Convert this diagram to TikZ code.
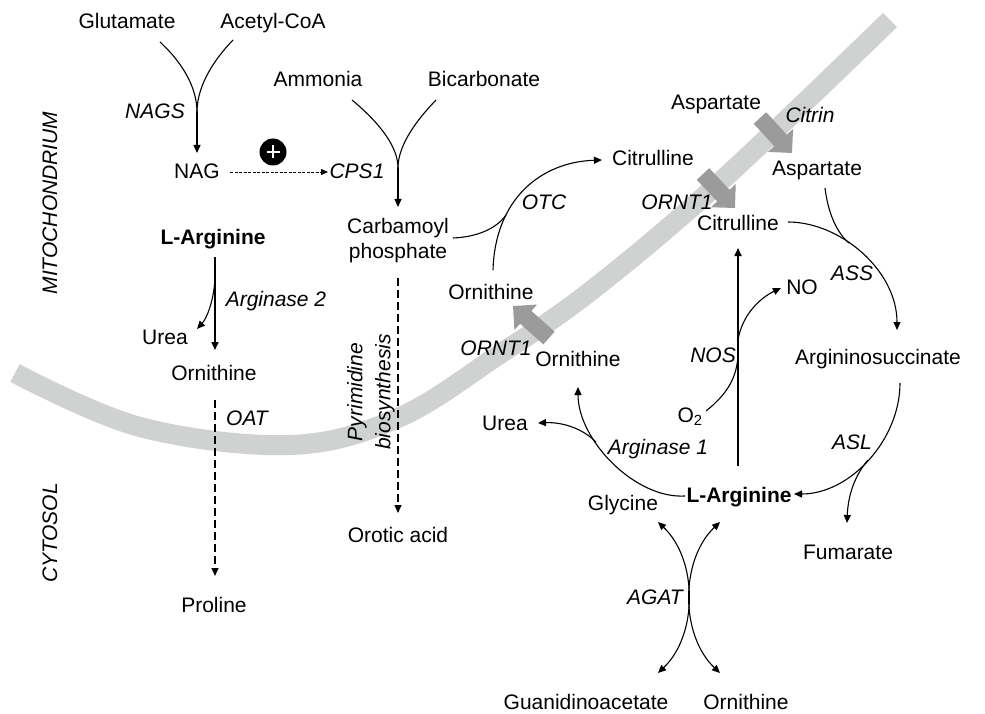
\documentclass[tikz,border=0pt]{standalone}
\usepackage{fontspec}
\setmainfont{Liberation Sans}
\usetikzlibrary{arrows.meta}
\definecolor{membr}{RGB}{208,210,210}
\definecolor{blockc}{RGB}{155,155,155}
\begin{document}
\begin{tikzpicture}[x=1pt,y=-1pt,
  every node/.style={font=\fontsize{21pt}{25pt}\selectfont, inner sep=0pt},
  lbl/.style={anchor=base},
  enz/.style={anchor=base,font=\fontsize{21pt}{25pt}\selectfont\itshape},
  bld/.style={anchor=base,font=\fontsize{21pt}{25pt}\selectfont\bfseries},
  conn/.style={line width=1.1pt},
  thick conn/.style={line width=1.6pt},
  arr/.style={conn,-{Triangle[length=8pt,width=7pt]}},
  dblarr/.style={conn,{Triangle[length=8pt,width=7pt]}-{Triangle[length=8pt,width=7pt]}},
  dsh/.style={arr,dash pattern=on 8pt off 4pt},
  fine dsh/.style={line width=0.8pt,-{Triangle[length=7pt,width=6pt]},dash pattern=on 3pt off 1.5pt},
  blockarrow/.style={line width=17pt,blockc,-{Triangle[length=17pt,width=33pt]}},
]
\useasboundingbox (0,0) rectangle (985,714);

% membrane
\draw[membr, line width=20pt] plot[smooth, tension=0.6] coordinates {(15,373) (140,427) (290,445) (398,418) (500,354) (592,290) (720,182) (890,20)};

% transporter block arrows
\coordinate (citrin-t) at (760,118);
\coordinate (citrin-h) at (792,153);
\coordinate (ornta-t) at (703,174);
\coordinate (ornta-h) at (735,208);
\coordinate (orntb-t) at (549,338);
\coordinate (orntb-h) at (513,306);
\draw[blockarrow] (citrin-t) -- (citrin-h);
\draw[blockarrow] (ornta-t) -- (ornta-h);
\draw[blockarrow] (orntb-t) -- (orntb-h);

% compartment labels
\node[rotate=90,font=\fontsize{21pt}{25pt}\selectfont\itshape] (mito) at (50,203) {MITOCHONDRIUM};
\node[rotate=90,font=\fontsize{21pt}{25pt}\selectfont\itshape] (cyto) at (50,533) {CYTOSOL};

% left part
\node[lbl] (glu) at (127,29) {Glutamate};
\node[lbl] (acc) at (273,29) {Acetyl-CoA};
\node[enz] (nags) at (155,119) {NAGS};
\node[lbl] (nag) at (197,179) {NAG};
\node[circle,fill=black,minimum size=27pt] (plus) at (273,152) {};
\draw[white,line width=2.6pt] ([xshift=-6.5pt]plus.center) -- ([xshift=6.5pt]plus.center);
\draw[white,line width=2.6pt] ([yshift=-6.5pt]plus.center) -- ([yshift=6.5pt]plus.center);
\node[enz] (cps) at (357,179) {CPS1};
\node[lbl] (amm) at (318,87) {Ammonia};
\node[lbl] (bic) at (484,87) {Bicarbonate};
\node[align=center] (carb) at (398,241) {Carbamoyl\\phosphate};
\node[bld] (larg1) at (213,244) {L-Arginine};
\node[enz] (arg2) at (276,306) {Arginase 2};
\node[lbl] (urea1) at (165,344) {Urea};
\node[lbl] (orn1) at (214,380) {Ornithine};
\node[enz] (oat) at (247,425) {OAT};
\node[lbl] (pro) at (214,612) {Proline};
\node[rotate=90,align=center,font=\fontsize{21pt}{28pt}\selectfont\itshape] (pyr) at (371,392) {Pyrimidine\\biosynthesis};
\node[lbl] (oro) at (398,542) {Orotic acid};

% right part
\node[lbl] (cit1) at (653,166) {Citrulline};
\node[enz] (otc) at (544,210) {OTC};
\node[lbl] (orn2) at (491,299) {Ornithine};
\node[enz] (ornt1a) at (677,210) {ORNT1};
\node[lbl] (asp1) at (716,110) {Aspartate};
\node[enz] (citrin) at (810,123) {Citrin};
\node[lbl] (asp2) at (817,176) {Aspartate};
\node[lbl] (cit2) at (738,230) {Citrulline};
\node[enz] (ass) at (852,280) {ASS};
\node[lbl] (no) at (802,294) {NO};
\node[lbl] (argsuc) at (878,364) {Argininosuccinate};
\node[enz] (nos) at (713,362) {NOS};
\node[lbl] (o2) at (690,422) {O\textsubscript{2}};
\node[lbl] (orn3) at (578,366) {Ornithine};
\node[enz] (ornt1b) at (496,355) {ORNT1};
\node[lbl] (urea2) at (505,430) {Urea};
\node[enz] (arg1) at (658,454) {Arginase 1};
\node[bld] (larg2) at (739,502) {L-Arginine};
\node[enz] (asl) at (852,449) {ASL};
\node[lbl] (fum) at (848,559) {Fumarate};
\node[lbl] (gly) at (623,510) {Glycine};
\node[enz] (agat) at (655,604) {AGAT};
\node[lbl] (guan) at (586,709) {Guanidinoacetate};
\node[lbl] (orn4) at (746,709) {Ornithine};

% connector points
\coordinate (glu-o) at (160,42);
\coordinate (acc-o) at (233,40);
\coordinate (nags-j) at (197,112);
\coordinate (nag-i) at (197,153);
\coordinate (nag-e) at (230,172);
\coordinate (cps-w) at (328,172);
\coordinate (amm-o) at (352,100);
\coordinate (bic-o) at (436,100);
\coordinate (cp-j) at (398,168);
\coordinate (carb-i) at (398,207);
\coordinate (larg1-o) at (215,257);
\coordinate (orn1-i) at (215,350);
\coordinate (urea1-j) at (215,278);
\coordinate (urea1-i) at (197,329);
\coordinate (orn1-o) at (215,400);
\coordinate (pro-i) at (215,576);
\coordinate (carb-o) at (398,278);
\coordinate (oro-i) at (398,513);
\coordinate (orn2-o) at (493,270);
\coordinate (cit1-i) at (602,160);
\coordinate (carb-e) at (453,238);
\coordinate (otc-j) at (506,215);
\coordinate (cit2-e) at (788,222);
\coordinate (argsuc-i) at (897,330);
\coordinate (asp2-o) at (825,188);
\coordinate (ass-j) at (849,243);
\coordinate (argsuc-o) at (900,383);
\coordinate (larg2-i) at (794,494);
\coordinate (asl-j) at (868,460);
\coordinate (fum-i) at (847,523);
\coordinate (larg2-w) at (685,496);
\coordinate (orn3-i) at (578,387);
\coordinate (urea2-j) at (596,442);
\coordinate (urea2-i) at (538,423);
\coordinate (larg2-n) at (738,466);
\coordinate (cit2-s) at (738,248);
\coordinate (nos-j1) at (738,340);
\coordinate (no-i) at (781,288);
\coordinate (o2-o) at (706,411);
\coordinate (nos-j2) at (738,352);
\coordinate (gly-i) at (658,522);
\coordinate (guan-i) at (658,673);
\coordinate (larg2-s) at (720,522);
\coordinate (orn4-i) at (720,673);

% connectors left
\draw[conn] (glu-o) .. controls (185,65) and (197,90) .. (nags-j);
\draw[conn] (acc-o) .. controls (209,65) and (197,90) .. (nags-j);
\draw[arr] (nags-j) -- (nag-i);
\draw[fine dsh] (nag-e) -- (cps-w);
\draw[conn] (amm-o) .. controls (382,125) and (398,148) .. (cp-j);
\draw[conn] (bic-o) .. controls (412,125) and (398,148) .. (cp-j);
\draw[arr] (cp-j) -- (carb-i);
\draw[arr,thick conn] (larg1-o) -- (orn1-i);
\draw[arr] (urea1-j) .. controls (214,300) and (207,318) .. (urea1-i);
\draw[dsh] (orn1-o) -- (pro-i);
\draw[dsh] (carb-o) -- (oro-i);

% urea cycle
\draw[arr] (orn2-o) .. controls (495,200) and (540,162) .. (cit1-i);
\draw[conn] (carb-e) .. controls (478,237) and (497,228) .. (otc-j);
\draw[arr] (cit2-e) .. controls (840,222) and (897,270) .. (argsuc-i);
\draw[conn] (asp2-o) .. controls (828,212) and (836,232) .. (ass-j);
\draw[arr] (argsuc-o) .. controls (900,440) and (850,494) .. (larg2-i);
\draw[arr] (asl-j) .. controls (855,475) and (848,495) .. (fum-i);
\draw[arr] (larg2-w) .. controls (635,499) and (578,440) .. (orn3-i);
\draw[arr] (urea2-j) .. controls (582,428) and (562,422) .. (urea2-i);
\draw[arr,thick conn] (larg2-n) -- (cit2-s);
\draw[arr] (nos-j1) .. controls (742,315) and (760,298) .. (no-i);
\draw[conn] (o2-o) .. controls (726,395) and (738,378) .. (nos-j2);
\draw[dblarr] (gly-i) .. controls (698,560) and (698,635) .. (guan-i);
\draw[dblarr] (larg2-s) .. controls (680,560) and (680,635) .. (orn4-i);
\end{tikzpicture}
\end{document}
